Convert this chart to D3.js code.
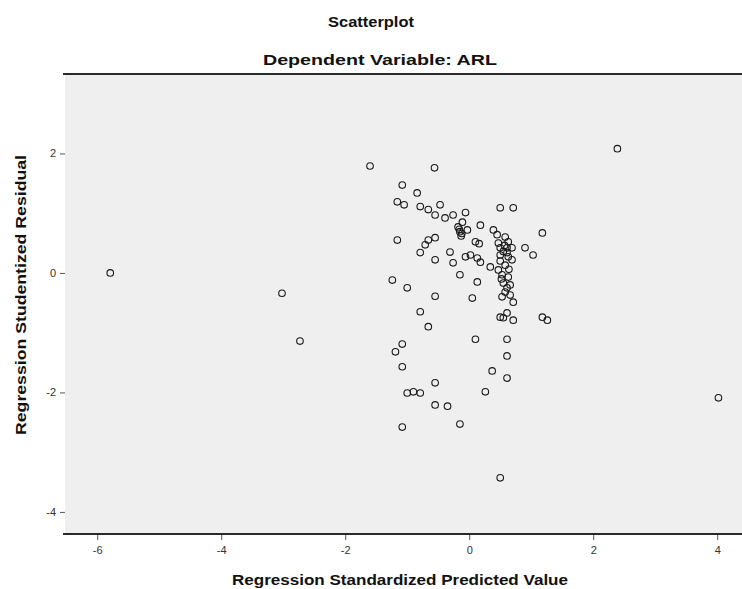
<!DOCTYPE html>
<html>
<head>
<meta charset="utf-8">
<script src="https://cdn.jsdelivr.net/npm/d3@7"></script>
<style>
  body { margin: 0; background: #fff; }
  svg { display: block; font-family: "Liberation Sans", Arial, sans-serif; }
</style>
</head>
<body>
<div id="chart"></div>
<script>
// Regression standardized predicted value (x) and studentized residual (y)
const predicted = [
  -5.79, -3.02, -2.73, 2.39, 4.02, 0.50, -1.60, -0.56, -1.08, -0.84,
  -1.16, -1.05, -0.79, -0.66, -0.47, -0.55, -0.39, -0.26, -0.06, -0.18,
  -0.15, -0.13, -1.16, -0.66, -0.55, -0.71, -0.79, -0.31, -0.55, -0.26,
  -0.06, 0.50, 0.71, -0.03, 0.18, 0.39, 0.45, 0.58, 0.63, 1.18,
  0.10, 0.16, 0.50, 0.61, 0.69, 0.90, 1.03, 0.50, 0.61, 0.69,
  0.50, 0.02, 0.18, 0.34, 0.47, 0.53, 0.63, 0.13, 0.55, 0.61,
  -1.24, -1.00, -0.55, -0.79, -0.66, -1.08, -1.19, -1.08, -0.55, -1.00,
  -0.90, -0.79, -0.55, -0.35, -1.08, -0.15, -0.15, 0.05, 0.53, 0.71,
  0.61, 0.55, 0.71, 1.18, 1.26, 0.10, 0.61, 0.61, 0.37, 0.61,
  0.26, -0.11, 0.58, 0.47, 0.58, 0.66, 0.13, 0.50, 0.55, 0.63,
  0.52, 0.66, -0.16, -0.12, 0.57, 0.64
];
const residual = [
  0.00, -0.34, -1.14, 2.08, -2.09, -3.43, 1.79, 1.76, 1.47, 1.34,
  1.19, 1.14, 1.11, 1.06, 1.14, 0.97, 0.92, 0.97, 1.01, 0.77,
  0.69, 0.62, 0.55, 0.55, 0.59, 0.47, 0.34, 0.35, 0.22, 0.17,
  0.27, 1.09, 1.09, 0.72, 0.80, 0.72, 0.64, 0.60, 0.52, 0.67,
  0.52, 0.49, 0.42, 0.42, 0.42, 0.42, 0.30, 0.30, 0.34, 0.22,
  0.20, 0.30, 0.18, 0.10, 0.05, -0.03, -0.07, -0.15, -0.17, -0.25,
  -0.12, -0.25, -0.39, -0.65, -0.90, -1.19, -1.32, -1.57, -1.84, -2.01,
  -1.99, -2.01, -2.21, -2.23, -2.58, -2.53, -0.03, -0.42, -0.40, -0.49,
  -0.67, -0.75, -0.79, -0.74, -0.79, -1.11, -1.11, -1.39, -1.64, -1.76,
  -1.99, 0.85, 0.13, 0.50, -0.32, -0.37, 0.25, -0.74, 0.36, 0.27,
  -0.10, -0.20, 0.73, 0.66, 0.46, 0.06
];
const xTicks = [-6, -4, -2, 0, 2, 4];
const yTicks = [2, 0, -2, -4];

const data = predicted.map((x, i) => ({ x: x, y: residual[i] }));

const width = 742;
const height = 589;
const margin = { top: 74, right: 0, bottom: 55, left: 65 };

const svg = d3.select("#chart")
  .append("svg")
  .attr("width", width)
  .attr("height", height);

const xScale = d3.scaleLinear()
  .domain([-6.52, 4.40])
  .range([margin.left, width - margin.right]);

const yScale = d3.scaleLinear()
  .domain([-4.37, 3.33])
  .range([height - margin.bottom, margin.top]);

// plot background
svg.append("rect")
  .attr("x", margin.left)
  .attr("y", margin.top)
  .attr("width", width - margin.left - margin.right)
  .attr("height", height - margin.top - margin.bottom)
  .style("fill", "#efefef");

// top and bottom frame lines
[margin.top, height - margin.bottom].forEach(yy => {
  svg.append("line")
    .attr("x1", margin.left - 2)
    .attr("x2", width)
    .attr("y1", yy)
    .attr("y2", yy)
    .style("stroke", "#2a2a2a")
    .style("stroke-width", 2);
});

// axes (plain hyphen for negatives, as in the original)
const fmt = d => String(d);

const xAxis = svg.append("g")
  .attr("transform", `translate(0, ${height - margin.bottom + 1})`)
  .call(d3.axisBottom(xScale).tickValues(xTicks).tickFormat(fmt).tickSize(5).tickPadding(6));

const yAxis = svg.append("g")
  .attr("transform", `translate(${margin.left}, 0)`)
  .call(d3.axisLeft(yScale).tickValues(yTicks).tickFormat(fmt).tickSize(5).tickPadding(4));

[xAxis, yAxis].forEach(ax => {
  ax.select(".domain").remove();
  ax.selectAll(".tick line").style("stroke", "#555");
  ax.selectAll(".tick text")
    .style("font-size", "11px")
    .style("fill", "#333")
    .style("font-family", "'Liberation Sans', Arial, sans-serif");
});

// points
svg.selectAll(".dot")
  .data(data)
  .enter()
  .append("circle")
  .attr("class", "dot")
  .attr("cx", d => xScale(d.x))
  .attr("cy", d => yScale(d.y))
  .attr("r", 3.3)
  .style("fill", "none")
  .style("stroke", "#1a1a1a")
  .style("stroke-width", 1.1);

// titles
svg.append("text")
  .attr("x", 371)
  .attr("y", 27)
  .attr("text-anchor", "middle")
  .attr("textLength", 86)
  .attr("lengthAdjust", "spacingAndGlyphs")
  .style("font-size", "15px")
  .style("font-weight", "bold")
  .style("fill", "#111")
  .text("Scatterplot");

svg.append("text")
  .attr("x", 380)
  .attr("y", 65)
  .attr("text-anchor", "middle")
  .attr("textLength", 234)
  .attr("lengthAdjust", "spacingAndGlyphs")
  .style("font-size", "15px")
  .style("font-weight", "bold")
  .style("fill", "#111")
  .text("Dependent Variable: ARL");

svg.append("text")
  .attr("x", 400)
  .attr("y", 585)
  .attr("text-anchor", "middle")
  .attr("textLength", 336)
  .attr("lengthAdjust", "spacingAndGlyphs")
  .style("font-size", "14px")
  .style("font-weight", "bold")
  .style("fill", "#111")
  .text("Regression Standardized Predicted Value");

svg.append("text")
  .attr("transform", "translate(26, 295) rotate(-90)")
  .attr("text-anchor", "middle")
  .attr("textLength", 280)
  .attr("lengthAdjust", "spacingAndGlyphs")
  .style("font-size", "14px")
  .style("font-weight", "bold")
  .style("fill", "#111")
  .text("Regression Studentized Residual");
</script>
</body>
</html>
